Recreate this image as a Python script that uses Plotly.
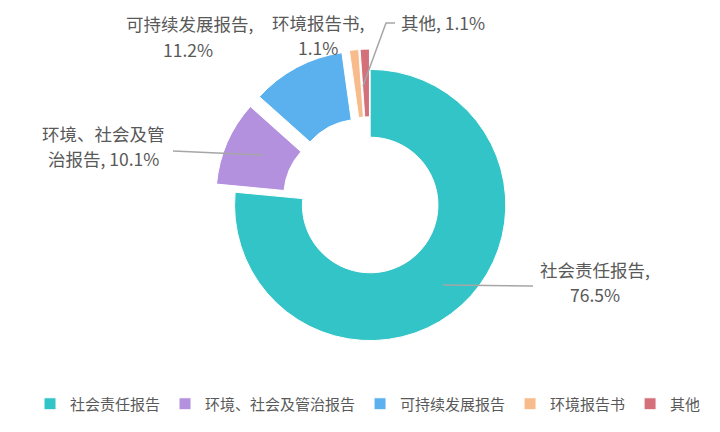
import plotly.graph_objects as go

labels = ["社会责任报告", "环境、社会及管治报告", "可持续发展报告", "环境报告书", "其他"]
values = [76.5, 10.1, 11.2, 1.1, 1.1]
colors = ["#33C4C8", "#B491DE", "#5AB1EE", "#F8BC8C", "#D3707A"]
pulls = [0, 0.15, 0.15, 0.15, 0.15]

font_family = "Noto Sans CJK SC, Microsoft YaHei, sans-serif"
text_color = "#595959"
W, H = 720, 432

fig = go.Figure()
fig.add_trace(go.Pie(
    labels=labels,
    values=values,
    marker=dict(colors=colors, line=dict(color="white", width=1)),
    hole=0.5,
    sort=False,
    direction="clockwise",
    rotation=0,
    pull=pulls,
    textinfo="none",
    hoverinfo="label+percent",
    domain=dict(x=[0.286, 0.720], y=[0.183, 0.905]),
))

pct = [f"{v:.1f}%" for v in values]
dy = -7
# (text, x_px, y_px, xanchor)
lines = [
    (f"{labels[0]},", 587, 268, "center"),
    (pct[0], 587, 293, "center"),
    (labels[1][:7], 95, 132, "center"),
    (labels[1][7:] + ", " + pct[1], 95, 157, "center"),
    (f"{labels[2]},", 181, 23, "center"),
    (pct[2], 180, 49, "center"),
    (f"{labels[3]},", 310, 15, "center"),
    (pct[3], 310, 46, "center"),
    (f"{labels[4]}, {pct[4]}", 391, 15, "left"),
]
annos = []
for t, x, y, xa in lines:
    yy = 1 - (y + dy) / H
    ya = "middle"
    if y + dy < 12:
        yy, ya = 1.0, "top"
    annos.append(dict(x=x / W, y=yy, text=t, xref="paper", yref="paper",
                      showarrow=False, xanchor=xa, yanchor=ya,
                      font=dict(family=font_family, size=17.5, color=text_color)))
fig.update_layout(annotations=annos)

line = dict(color="#A6A6A6", width=1.5)
shapes = [
    dict(type="line", xref="paper", yref="paper", x0=435/W, y0=1-277/H, x1=525/W, y1=1-278/H, line=line),
    dict(type="line", xref="paper", yref="paper", x0=165/W, y0=1-143/H, x1=255/W, y1=1-147/H, line=line),
    dict(type="path", xref="paper", yref="paper",
         path=f"M {355/W},{1-78/H} L {378/W},{1-15/H} L {387/W},{1-15/H}", line=line),
]
fig.update_layout(shapes=shapes)

fig.update_layout(
    width=W, height=H,
    margin=dict(l=0, r=0, t=0, b=0),
    paper_bgcolor="white", plot_bgcolor="white",
    font=dict(family=font_family, color=text_color),
    showlegend=True,
    legend=dict(orientation="h", x=0.5, xanchor="center", y=1-396/H, yanchor="middle",
                font=dict(family=font_family, size=15, color=text_color),
                itemwidth=30, traceorder="normal"),
)

fig.write_html("out.html")
